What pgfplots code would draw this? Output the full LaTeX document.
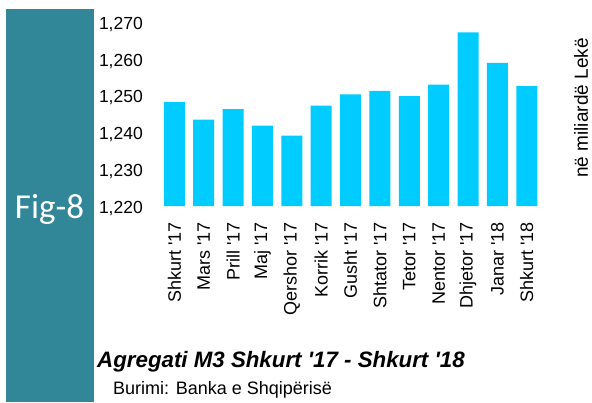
\documentclass[border=0pt]{standalone}
\usepackage{pgfplots}
\pgfplotsset{compat=1.18}
\usepackage{fontspec}
\setmainfont{Liberation Sans}
\newfontfamily\figfont{Carlito}
\definecolor{teal8}{RGB}{49,134,152}
\definecolor{barc}{RGB}{0,204,255}
\newcommand{\q}{\textquotesingle}
\begin{document}
\begin{tikzpicture}[x=1pt,y=1pt]
\useasboundingbox (0,0) rectangle (592,402);
\fill[teal8] (6,0) rectangle (94,393);
\node[text=white,font=\figfont\fontsize{35}{35}\selectfont] at (49.5,193) {Fig-8};
\begin{axis}[
  at={(156.7pt,196pt)}, anchor=south west,
  scale only axis, width=387.7pt, height=184.3pt,
  ybar, bar width=21pt, bar shift=0pt,
  xmin=-0.6, xmax=12.6, ymin=1220, ymax=1270,
  ytick={1220,1230,...,1270},
  xtick=data,
  xticklabels={Shkurt \q17,Mars \q17,Prill \q17,Maj \q17,Qershor \q17,Korrik \q17,Gusht \q17,Shtator \q17,Tetor \q17,Nentor \q17,Dhjetor \q17,Janar \q18,Shkurt \q18},
  axis line style={draw=none}, major tick style={draw=none},
  /pgf/number format/.cd, 1000 sep={,}, assume math mode=true, /pgfplots/.cd,
  yticklabel style={anchor=east, inner sep=0pt, xshift=-13.7pt, yshift=-2.5pt, font=\fontsize{17.5}{17.5}\selectfont},
  xticklabel style={rotate=90, anchor=east, inner sep=0pt, xshift=-12pt, font=\fontsize{18}{18}\selectfont},
]
\addplot[fill=barc, draw=none] coordinates {
(0,1248.2) (1,1243.4) (2,1246.3) (3,1241.8) (4,1239.1) (5,1247.2) (6,1250.3)
(7,1251.2) (8,1249.8) (9,1252.9) (10,1267.1) (11,1258.8) (12,1252.5)};
\end{axis}
\node[rotate=90, font=\fontsize{19}{19}\selectfont] at (581,294) {në miliardë Lekë};
\node[anchor=base west, inner sep=0pt, font=\fontsize{22.3}{22.3}\selectfont\bfseries\itshape] at (97,35) {Agregati M3 Shkurt \q17 - Shkurt \q18};
\node[anchor=base west, inner sep=0pt, font=\fontsize{18}{18}\selectfont] at (113,8) {Burimi: Banka e Shqipërisë};
\end{tikzpicture}
\end{document}
